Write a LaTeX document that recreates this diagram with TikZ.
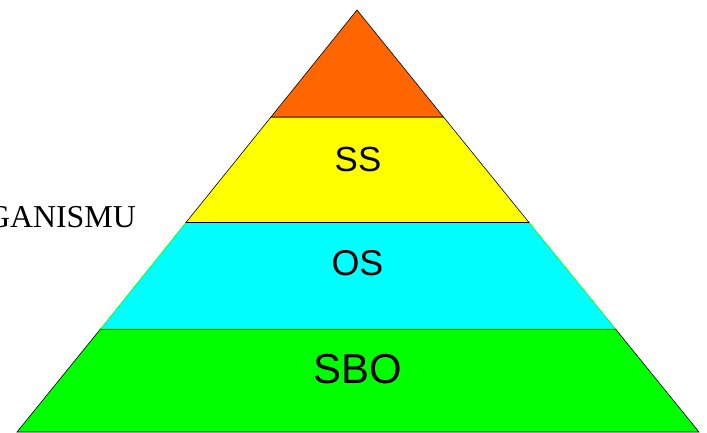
\documentclass[tikz,border=0pt]{standalone}
\usepackage{fontspec}
\setmainfont{Liberation Serif}
\newfontfamily\labelfont{Liberation Sans}
\definecolor{toporange}{HTML}{FF6600}
\definecolor{bandyellow}{HTML}{FFFF00}
\definecolor{bandcyan}{HTML}{00FFFF}
\definecolor{bandgreen}{HTML}{00FF00}
\tikzset{band/.style={line width=0.6bp}, level/.style={inner sep=0pt}}

\begin{document}
\begin{tikzpicture}[x=1bp,y=1bp]
\useasboundingbox (0,0) rectangle (707,432);
\filldraw [band, fill=bandgreen, draw=black] (17,0)--(699,0)--(615.5,103)--(100.5,103)--cycle;
\filldraw [band, fill=bandcyan, draw=bandgreen] (100.5,103)--(615.5,103)--(529,209.5)--(186,209.5)--cycle;
\draw [band, draw=black!60!bandgreen] (100.5,103)--(615.5,103);
\filldraw [band, fill=bandyellow, draw=black] (186,209.5)--(529,209.5)--(443.5,315)--(271,315)--cycle;
\filldraw [band, fill=toporange, draw=black] (271,315)--(443.5,315)--(357,422)--cycle;
\node [level, font=\labelfont\fontsize{35}{35}\selectfont] (ss) at (358,273) {SS};
\node [level, font=\labelfont\fontsize{36}{36}\selectfont] (os) at (357.5,168.5) {OS};
\node [level, font=\labelfont\fontsize{42}{42}\selectfont] (sbo) at (357.5,62.5) {SBO};
\node [anchor=base east, inner sep=0pt, font=\fontsize{32}{32}\selectfont] (org) at (136,205) {GANISMU};
\end{tikzpicture}
\end{document}
